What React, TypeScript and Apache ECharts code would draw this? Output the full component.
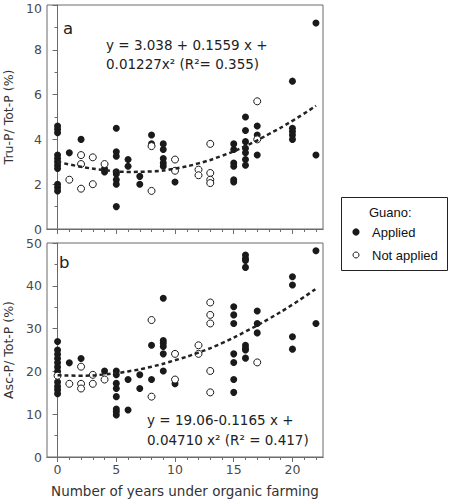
import React, { useEffect, useRef } from "react";
import * as echarts from "echarts";

// Panel a: Tru-P / Tot-P (%)
const appliedA: [number, number][] = [
  [0, 4.6], [0, 4.45], [0, 4.3], [0, 3.3], [0, 3.15], [0, 3.0], [0, 2.85], [0, 2.7], [0, 2.0], [0, 1.85], [0, 1.7],
  [1, 3.4], [2, 4.0], [4, 2.7], [4, 2.55],
  [5, 4.5], [5, 3.45], [5, 3.25], [5, 2.55], [5, 2.45], [5, 2.2], [5, 2.0], [5, 1.0],
  [6, 3.1], [6, 2.8], [7, 2.35], [7, 2.0], [8, 4.2], [8, 3.8],
  [9, 3.8], [9, 3.55], [9, 3.15], [9, 2.95], [9, 2.8], [10, 2.1],
  [15, 3.8], [15, 3.55], [15, 2.95], [15, 2.8], [15, 2.2], [15, 2.1],
  [16, 5.0], [16, 4.4], [16, 3.9], [16, 3.6], [16, 3.4], [16, 3.1], [16, 2.85],
  [17, 4.6], [17, 4.2], [17, 3.3],
  [20, 6.6], [20, 4.5], [20, 4.35], [20, 4.2], [20, 4.0],
  [22, 9.2], [22, 3.3],
];
const notAppliedA: [number, number][] = [
  [1, 2.2], [2, 3.3], [2, 2.9], [2, 1.8], [3, 3.2], [3, 2.0], [4, 2.9],
  [8, 3.7], [8, 1.7], [10, 3.1], [10, 2.6], [12, 2.65], [12, 2.4],
  [13, 3.8], [13, 2.5], [13, 2.2], [13, 2.05], [17, 5.7], [17, 4.0],
];

// Panel b: Asc-P / Tot-P (%)
const appliedB: [number, number][] = [
  [0, 27], [0, 25], [0, 24], [0, 23], [0, 22], [0, 21], [0, 20], [0, 17.5], [0, 16.5], [0, 15.7], [0, 14.8],
  [1, 22], [2, 23], [4, 20.1],
  [5, 20.1], [5, 19.2], [5, 17.2], [5, 16.0], [5, 14.1], [5, 11.2], [5, 10.6], [5, 9.8],
  [6, 18.1], [6, 11.0], [7, 19.2], [7, 16.0], [8, 26.1], [8, 18.1],
  [9, 37.1], [9, 27.2], [9, 26.6], [9, 25.8], [9, 24.1], [9, 20.1], [10, 17.1],
  [15, 35.1], [15, 33.2], [15, 31.2], [15, 24.1], [15, 22.1], [15, 18.1], [15, 15.1],
  [16, 47.2], [16, 46.4], [16, 45.9], [16, 44.3], [16, 26.1], [16, 25.4], [16, 25.0], [16, 23.1],
  [17, 34.1], [17, 31.2], [17, 29.0],
  [20, 42.1], [20, 40.2], [20, 28.1], [20, 25.2],
  [22, 48.2], [22, 31.2],
];
const notAppliedB: [number, number][] = [
  [0, 19], [1, 17.1], [2, 21.1], [2, 17.1], [2, 16.0], [3, 19.2], [3, 17.1], [4, 18.1],
  [8, 32.0], [8, 14.1], [10, 24.1], [10, 18.1], [12, 26.1], [12, 24.1],
  [13, 36.1], [13, 33.2], [13, 31.2], [13, 20.1], [13, 15.1], [17, 22.1],
];

// Fitted curves
const trendX = [0, 2, 4, 6, 8, 10, 12, 14, 16, 18, 20, 22];
const trendA = [3.0, 2.78, 2.63, 2.55, 2.57, 2.7, 2.93, 3.27, 3.7, 4.24, 4.83, 5.5];
const trendB = [19.1, 19.0, 19.3, 20.0, 21.1, 22.6, 24.4, 26.6, 29.3, 32.3, 35.6, 39.3];

const xMajorTicks = [0, 5, 10, 15, 20];
const xMinorTicks = [0, 1, 2, 3, 4, 5, 6, 7, 8, 9, 10, 11, 12, 13, 14, 15, 16, 17, 18, 19, 20, 21, 22];

const xTitle = "Number of years under organic farming";
const yTitleA = "Tru-P/ Tot-P (%)";
const yTitleB = "Asc-P/ Tot-P (%)";
const eqA = ["y = 3.038 + 0.1559 x +", "0.01227x\u00B2 (R\u00B2= 0.355)"];
const eqB = ["y = 19.06-0.1165 x +", "0.04710 x\u00B2 (R\u00B2 = 0.417)"];
const legendTitle = "Guano:";
const legendNames = ["Applied", "Not applied"];

const FONT = "DejaVu Sans";
const AXIS = "#6b6b6b";
const TICKTXT = "#4a4a4a";
const INK = "#1a1a1a";

export default function App() {
  const ref = useRef<HTMLDivElement>(null);
  useEffect(() => {
    if (!ref.current) return;
    const chart = echarts.init(ref.current, null, { renderer: "svg" });
    const zip = (xs: number[], ys: number[]) => xs.map((x, i) => [x, ys[i]]);
    const grids = [
      { left: 47, top: 5, width: 276, height: 224 },
      { left: 47, top: 243, width: 276, height: 214 },
    ];
    const xBase = (gi: number, major: boolean, labels: boolean) => ({
      type: "value",
      gridIndex: gi,
      min: -0.9,
      max: 22.6,
      position: "bottom",
      splitLine: { show: false },
      axisLine: { show: true, lineStyle: { color: AXIS, width: 1 } },
      axisTick: {
        show: true,
        length: major ? 5 : 3,
        customValues: major ? xMajorTicks : xMinorTicks,
        lineStyle: { color: AXIS },
      },
      axisLabel: labels
        ? { show: true, customValues: xMajorTicks, color: TICKTXT, fontFamily: FONT, fontSize: 12.5, margin: 6 }
        : { show: false },
    });
    const yBase = (gi: number, max: number, interval: number, name: string) => ({
      type: "value",
      gridIndex: gi,
      min: 0,
      max,
      interval,
      splitLine: { show: false },
      axisLine: { show: true, lineStyle: { color: AXIS, width: 1 } },
      axisTick: { show: true, length: 5, lineStyle: { color: AXIS } },
      minorTick: { show: true, splitNumber: 2, length: 3, lineStyle: { color: AXIS } },
      minorSplitLine: { show: false },
      axisLabel: {
        color: TICKTXT,
        fontFamily: FONT,
        fontSize: 12.5,
        lineHeight: 10,
        margin: 5,
        formatter: (v: number) => (gi === 0 && v === max ? `{edge|${v}}` : `${v}`),
        rich: { edge: { color: TICKTXT, fontFamily: FONT, fontSize: 12.5, lineHeight: 10, padding: [6, 0, 0, 0] } },
      },
      name,
      nameLocation: "middle",
      nameRotate: 90,
      nameGap: 32,
      nameTextStyle: { color: "#333", fontFamily: FONT, fontSize: 12.5 },
    });
    const xB: any = xBase(1, true, true);
    xB.name = xTitle;
    xB.nameLocation = "middle";
    xB.nameGap = 27;
    xB.nameTextStyle = { color: "#333", fontFamily: FONT, fontSize: 13.5, lineHeight: 14 };

    const filled = (data: any, xi: number, yi: number, name: string) => ({
      type: "scatter",
      name,
      xAxisIndex: xi,
      yAxisIndex: yi,
      data,
      symbol: "circle",
      symbolSize: 7,
      itemStyle: { color: INK, opacity: 1 },
      z: 3,
    });
    const open = (data: any, xi: number, yi: number, name: string) => ({
      type: "scatter",
      name,
      xAxisIndex: xi,
      yAxisIndex: yi,
      data,
      symbol: "circle",
      symbolSize: 7,
      itemStyle: { color: "#fff", borderColor: INK, borderWidth: 1, opacity: 1 },
      z: 4,
    });
    const trend = (data: any, xi: number, yi: number) => ({
      type: "line",
      xAxisIndex: xi,
      yAxisIndex: yi,
      data,
      smooth: true,
      symbol: "none",
      lineStyle: { color: "#222", width: 2.5, type: [4, 3] },
      z: 5,
      silent: true,
    });

    const txt = (x: number, y: number, text: string, size: number, family = FONT, color = "#222") => ({
      type: "text",
      x,
      y,
      style: { text, fill: color, font: `${size}px "${family}"`, textAlign: "left", textVerticalAlign: "middle" },
      z: 10,
    });

    chart.setOption({
      animation: false,
      backgroundColor: "#fff",
      grid: grids.map((g) => ({
        ...g,
        show: true,
        borderColor: AXIS,
        borderWidth: 1,
        backgroundColor: "transparent",
        containLabel: false,
        outerBoundsMode: "none",
      })),
      xAxis: [xBase(0, false, false), xBase(0, true, false), xBase(1, false, false), xB],
      yAxis: [yBase(0, 10, 2, yTitleA), yBase(1, 50, 10, yTitleB)],
      series: [
        filled(appliedA, 0, 0, legendNames[0]),
        open(notAppliedA, 0, 0, legendNames[1]),
        trend(zip(trendX, trendA), 0, 0),
        filled(appliedB, 3, 1, legendNames[0]),
        open(notAppliedB, 3, 1, legendNames[1]),
        trend(zip(trendX, trendB), 3, 1),
      ],
      graphic: [
        txt(63, 28, "a", 16.5),
        txt(59, 262, "b", 16.5),
        txt(106, 45, eqA[0], 13.5),
        txt(106, 64, eqA[1], 13.5),
        txt(147, 420, eqB[0], 13.5),
        txt(147, 440, eqB[1], 13.5),
        {
          type: "rect",
          shape: { x: 341.5, y: 197.5, width: 106, height: 73 },
          style: { fill: "#fff", stroke: "#222", lineWidth: 1 },
          z: 9,
        },
        txt(369, 212, legendTitle, 13, "Liberation Sans", "#111"),
        { type: "circle", shape: { cx: 356, cy: 232, r: 3.6 }, style: { fill: INK }, z: 10 },
        txt(372, 232, legendNames[0], 13, "Liberation Sans", "#111"),
        { type: "circle", shape: { cx: 356, cy: 255, r: 3 }, style: { fill: "#fff", stroke: INK, lineWidth: 1 }, z: 10 },
        txt(372, 255, legendNames[1], 13, "Liberation Sans", "#111"),
      ],
    });
    return () => chart.dispose();
  }, []);
  return <div ref={ref} style={{ position: "fixed", left: 0, top: 0, width: 449, height: 500 }} />;
}
